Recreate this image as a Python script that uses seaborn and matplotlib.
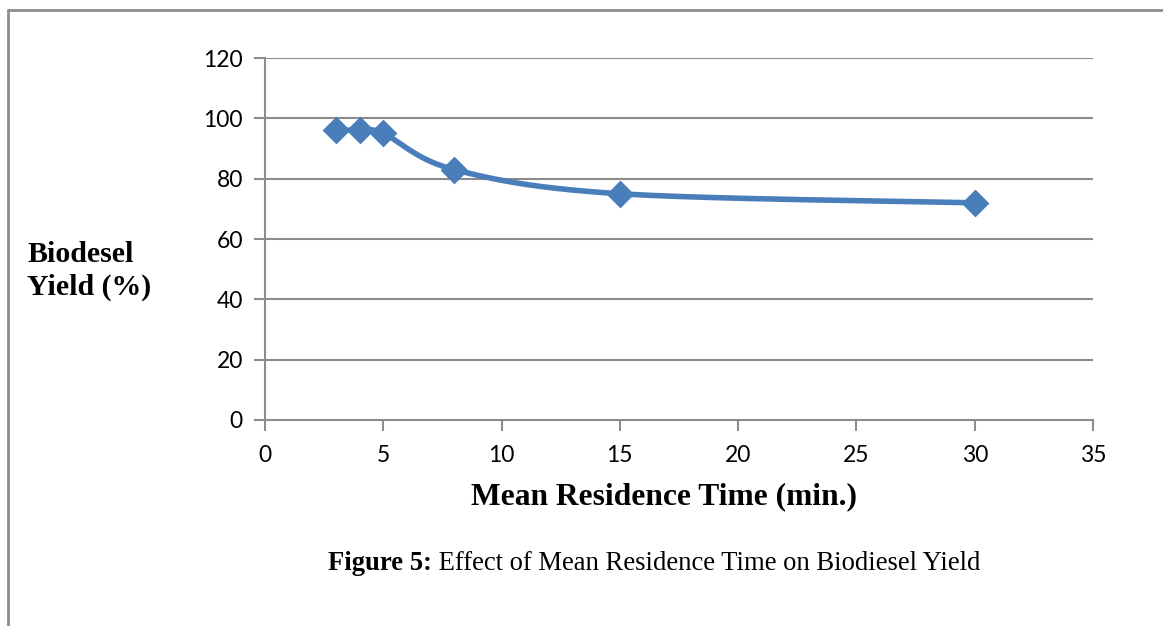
import numpy as np
import pandas as pd
import matplotlib
matplotlib.use("Agg")
import matplotlib.pyplot as plt
from matplotlib.lines import Line2D
import seaborn as sns

# Data
residence_time = [3, 4, 5, 8, 15, 30]
biodiesel_yield = [96, 96, 95, 83, 75, 72]
x_ticks = [0, 5, 10, 15, 20, 25, 30, 35]
y_ticks = [0, 20, 40, 60, 80, 100, 120]
x_label = "Mean Residence Time (min.)"
y_label = "Biodesel\nYield (%)"
caption_bold = "Figure 5:"
caption_rest = " Effect of Mean Residence Time on Biodiesel Yield"

W, H = 1163, 626
sns.set_theme(style="white")
plt.rcParams["font.family"] = ["Lato", "DejaVu Sans"]
plt.rcParams["text.color"] = "black"

fig = plt.figure(figsize=(W / 100, H / 100), dpi=100)
L, R, T, B = 265, 1093, 58, 420
ax = fig.add_axes([L / W, 1 - B / H, (R - L) / W, (B - T) / H])
ax.set_xlim(0, 35)
ax.set_ylim(0, 120)

blue = "#4a7ebb"
grey = "#8c8c8c"

# Excel-style smoothed curve (Bezier with Catmull-Rom control points in display space)
sx = (R - L) / 35.0
sy = (B - T) / 120.0
P = np.column_stack([np.array(residence_time) * sx, np.array(biodiesel_yield) * sy])
n = len(P)
curve = []
t = np.linspace(0, 1, 40)
for i in range(n - 1):
    p0 = P[i]
    p3 = P[i + 1]
    pm = P[i - 1] if i > 0 else P[i]
    pp = P[i + 2] if i + 2 < n else P[i + 1]
    c1 = p0 + (p3 - pm) / 6.0
    c2 = p3 - (pp - p0) / 6.0
    seg = ((1 - t) ** 3)[:, None] * p0 + (3 * (1 - t) ** 2 * t)[:, None] * c1 + \
          (3 * (1 - t) * t ** 2)[:, None] * c2 + (t ** 3)[:, None] * p3
    curve.append(seg if i == 0 else seg[1:])
curve = np.vstack(curve)
df_curve = pd.DataFrame({"x": curve[:, 0] / sx, "y": curve[:, 1] / sy, "o": np.arange(len(curve))})
df_pts = pd.DataFrame({"x": residence_time, "y": biodiesel_yield})

sns.lineplot(data=df_curve, x="x", y="y", sort=False, color=blue, lw=4, ax=ax, zorder=3)
sns.scatterplot(data=df_pts, x="x", y="y", marker="D", s=200, color=blue, edgecolor=blue,
                linewidth=0, ax=ax, zorder=4)

ax.set_xticks(x_ticks)
ax.set_yticks(y_ticks)
ax.set_xticklabels([str(v) for v in x_ticks])
ax.set_yticklabels([str(v) for v in y_ticks])
ax.set_xlabel("")
ax.set_ylabel("")
for v in y_ticks[1:]:
    ax.axhline(v, color=grey, lw=1.5, zorder=1)
for s in ["top", "right"]:
    ax.spines[s].set_visible(False)
for s in ["left", "bottom"]:
    ax.spines[s].set_color(grey)
    ax.spines[s].set_linewidth(1.5)
ax.tick_params(axis="both", which="major", length=8, width=1.5, color=grey,
               labelsize=16.5, labelcolor="black", direction="out")
ax.tick_params(axis="x", pad=10, bottom=True)
ax.tick_params(axis="y", pad=8, left=True)
ax.grid(False)

serif = ["Liberation Serif", "DejaVu Serif"]
fig.text(27 / W, 1 - 271 / H, y_label, family=serif, weight="bold", fontsize=21.5,
         ha="left", va="center", linespacing=1.3, color="black")
fig.text(664 / W, 1 - 497 / H, x_label, family=serif, weight="bold", fontsize=22.7,
         ha="center", va="center", color="black")

# caption
t1 = fig.text(328 / W, 1 - 563 / H, caption_bold, family=serif, weight="bold", fontsize=19.2,
              ha="left", va="center", color="black")
fig.canvas.draw()
bb = t1.get_window_extent()
fig.text(bb.x1 / W, 1 - 563 / H, caption_rest, family=serif, fontsize=19.2,
         ha="left", va="center", color="black")

# outer frame
fig.add_artist(Line2D([8 / W, 8 / W], [0, 1 - 10 / H], transform=fig.transFigure, color=grey, lw=2))
fig.add_artist(Line2D([8 / W, 1], [1 - 10 / H, 1 - 10 / H], transform=fig.transFigure, color=grey, lw=2))

fig.savefig("out.png", dpi=100)
